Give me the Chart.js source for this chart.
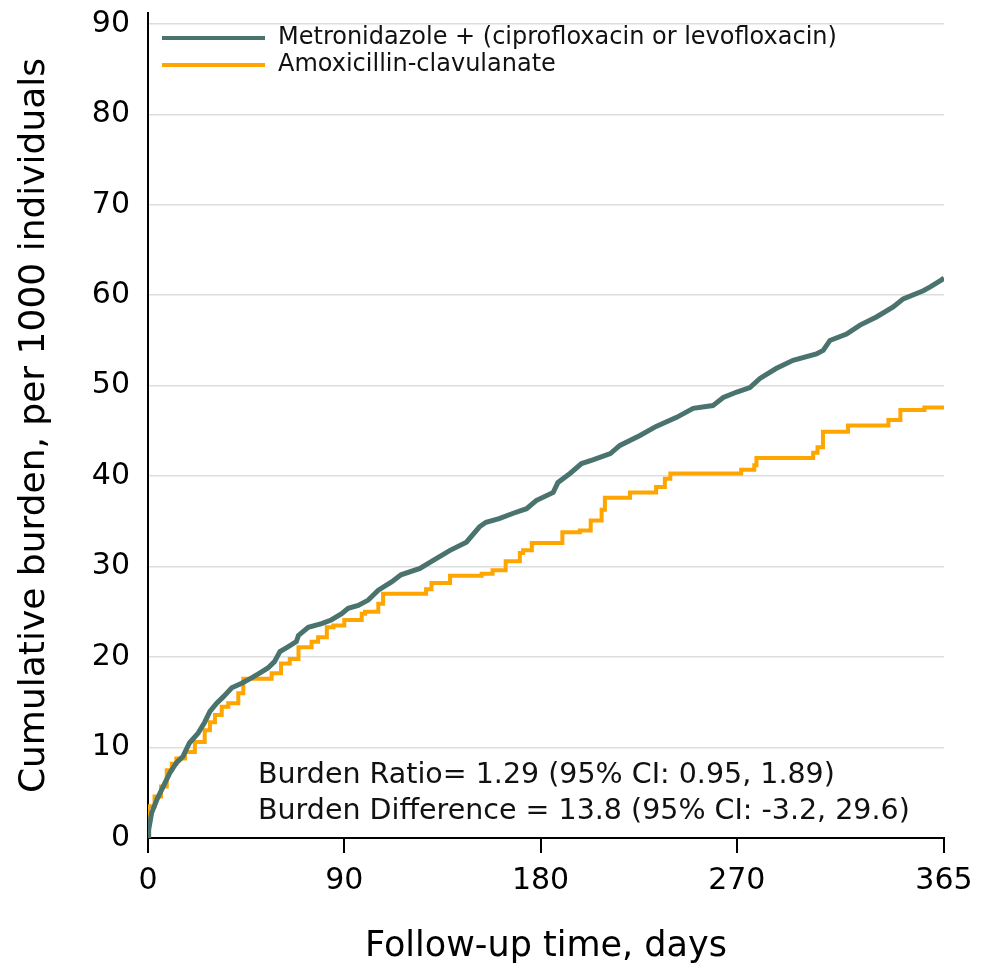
<!DOCTYPE html>
<html>
<head>
<meta charset="utf-8">
<script src="https://cdn.jsdelivr.net/npm/chart.js@4/dist/chart.umd.min.js"></script>
<style>
  body { margin: 0; background: #fff; }
  canvas { display: block; }
</style>
</head>
<body>
<canvas id="burdenChart" width="981" height="973"></canvas>
<script>
// Cumulative burden per 1000 (day, level)
const metroDays = [0, 0.3, 1.7, 4, 7, 10, 13, 16, 19, 23, 26, 28.4, 31.5, 34.5, 38.4, 43, 47.5, 51, 55, 58,
    60.5, 64, 68, 69, 73.5, 79.6, 84, 88.8, 91.8, 96.4, 101, 105.6, 111.7, 116, 124.7, 130.8, 138.5, 146,
    152, 155, 161, 167.5, 173.6, 178, 185.8, 188, 193.5, 198.8, 204, 212, 216.4, 225.6, 233, 242.4, 250,
    259, 263.8, 270, 276, 280.6, 288, 295.8, 306.5, 309.6, 312.7, 320.3, 326.5, 334, 341.7, 346.3, 355.5,
    358.5, 363.9, 365];
const metroValues = [0, 0.9, 2.8, 4.2, 5.7, 7.2, 8.3, 9.0, 10.5, 11.6, 12.8, 14.0, 14.9, 15.6, 16.6, 17.1, 17.7, 18.2, 18.8, 19.5,
    20.6, 21.1, 21.7, 22.4, 23.3, 23.7, 24.1, 24.8, 25.4, 25.7, 26.3, 27.4, 28.3, 29.1, 29.8, 30.7, 31.8, 32.7,
    34.4, 34.9, 35.3, 35.9, 36.4, 37.3, 38.2, 39.3, 40.3, 41.4, 41.8, 42.5, 43.4, 44.5, 45.5, 46.5, 47.5,
    47.8, 48.7, 49.3, 49.8, 50.8, 51.9, 52.8, 53.5, 53.9, 55.0, 55.7, 56.7, 57.6, 58.7, 59.6, 60.5,
    60.9, 61.7, 61.9];

// step levels: day where each level starts
const amoxDays = [0, 0.1, 3, 6, 8.6, 10.9, 13, 17, 21.5, 26, 28.4, 30.7, 33.8, 36.8, 41.4, 43.7, 56.7, 61, 65, 69,
    75, 78, 82, 85, 90, 98, 99.5, 105.6, 107.8, 127.5, 130, 138.5, 153, 158, 164, 170.5, 172, 176, 190, 198,
    203, 208, 209.5, 221, 233, 237, 239.5, 272, 278, 279, 305, 307, 309.5, 321, 339.5, 345, 356, 358, 365];
const amoxValues = [0, 2.4, 3.5, 4.6, 5.7, 7.5, 8.2, 8.8, 9.5, 10.6, 11.9, 12.8, 13.6, 14.5, 14.9, 16.0, 17.6, 18.2, 19.3, 19.8,
    21.1, 21.7, 22.2, 23.3, 23.5, 24.1, 24.8, 25.0, 25.9, 27.0, 27.5, 28.2, 29.0, 29.2, 29.6, 30.6, 31.5, 31.8, 32.6, 33.8,
    34.0, 35.1, 36.3, 37.6, 38.2, 38.8, 39.7, 40.3, 40.7, 41.2, 42.0, 42.6, 43.2, 44.9, 45.6, 46.2, 47.3, 47.6, 47.6];

const seriesLabels = ['Metronidazole + (ciprofloxacin or levofloxacin)', 'Amoxicillin-clavulanate'];
const seriesColors = ['#4a736e', '#ffa500'];

const xTicks = [0, 90, 180, 270, 365];
const yTicks = [0, 10, 20, 30, 40, 50, 60, 70, 80, 90];

const statLines = [
    'Burden Ratio= 1.29 (95% CI: 0.95, 1.89)',
    'Burden Difference = 13.8 (95% CI: -3.2, 29.6)'
];

const FONT = "'DejaVu Sans', sans-serif";

function toPoints(days, values) {
    return days.map((d, i) => ({ x: d, y: values[i] }));
}

// legend in the top-left corner and the ratio/difference text
const overlayPlugin = {
    id: 'overlay',
    afterDraw(chart) {
        const ctx = chart.ctx;
        const area = chart.chartArea;
        ctx.save();
        ctx.font = '24px ' + FONT;
        ctx.textBaseline = 'middle';
        ctx.fillStyle = '#111';
        seriesLabels.forEach((lbl, i) => {
            const y = area.top + 25 + i * 27;
            ctx.strokeStyle = seriesColors[i];
            ctx.lineWidth = 4;
            ctx.beginPath();
            ctx.moveTo(area.left + 14, y);
            ctx.lineTo(area.left + 117, y);
            ctx.stroke();
            ctx.fillText(lbl, area.left + 130, y);
        });

        ctx.font = '28.5px ' + FONT;
        ctx.textAlign = 'left';
        statLines.forEach((t, i) => {
            ctx.fillText(t, area.left + 110, area.bottom - 62 + i * 36);
        });
        ctx.restore();
    }
};

new Chart(document.getElementById('burdenChart'), {
    type: 'line',
    data: {
        datasets: [
            {
                label: seriesLabels[0],
                data: toPoints(metroDays, metroValues),
                borderColor: seriesColors[0],
                borderWidth: 5,
                pointRadius: 0
            },
            {
                label: seriesLabels[1],
                data: toPoints(amoxDays, amoxValues),
                borderColor: seriesColors[1],
                borderWidth: 4,
                stepped: 'after',
                pointRadius: 0
            }
        ]
    },
    options: {
        responsive: false,
        animation: false,
        layout: { padding: { top: 13, right: 37, left: 0, bottom: 0 } },
        plugins: {
            legend: { display: false },
            tooltip: { enabled: false }
        },
        scales: {
            x: {
                type: 'linear',
                min: 0,
                max: 365,
                afterBuildTicks: axis => { axis.ticks = xTicks.map(v => ({ value: v })); },
                afterFit: scale => { scale.height = 135; scale.paddingLeft = 0; scale.paddingRight = 0; },
                border: { display: true, color: '#000', width: 2 },
                grid: { drawOnChartArea: false, drawTicks: true, tickLength: 15, color: '#000', lineWidth: 2 },
                ticks: { color: '#000', font: { family: FONT, size: 30 }, padding: 10, maxRotation: 0 },
                title: {
                    display: true,
                    text: 'Follow-up time, days',
                    color: '#000',
                    font: { family: FONT, size: 35 },
                    padding: { top: 0, bottom: 5 }
                }
            },
            y: {
                min: 0,
                max: 91.2,
                afterBuildTicks: axis => { axis.ticks = yTicks.map(v => ({ value: v })); },
                afterFit: scale => { scale.width = 148; scale.paddingTop = 0; scale.paddingBottom = 0; },
                border: { display: true, color: '#000', width: 2 },
                grid: { color: '#dddddd', lineWidth: 1.5, drawTicks: false },
                ticks: { color: '#000', font: { family: FONT, size: 30 }, padding: 18 },
                title: {
                    display: true,
                    text: 'Cumulative burden, per 1000 individuals',
                    color: '#000',
                    font: { family: FONT, size: 36 },
                    padding: { top: 13, bottom: 0 }
                }
            }
        }
    },
    plugins: [overlayPlugin]
});
</script>
</body>
</html>
